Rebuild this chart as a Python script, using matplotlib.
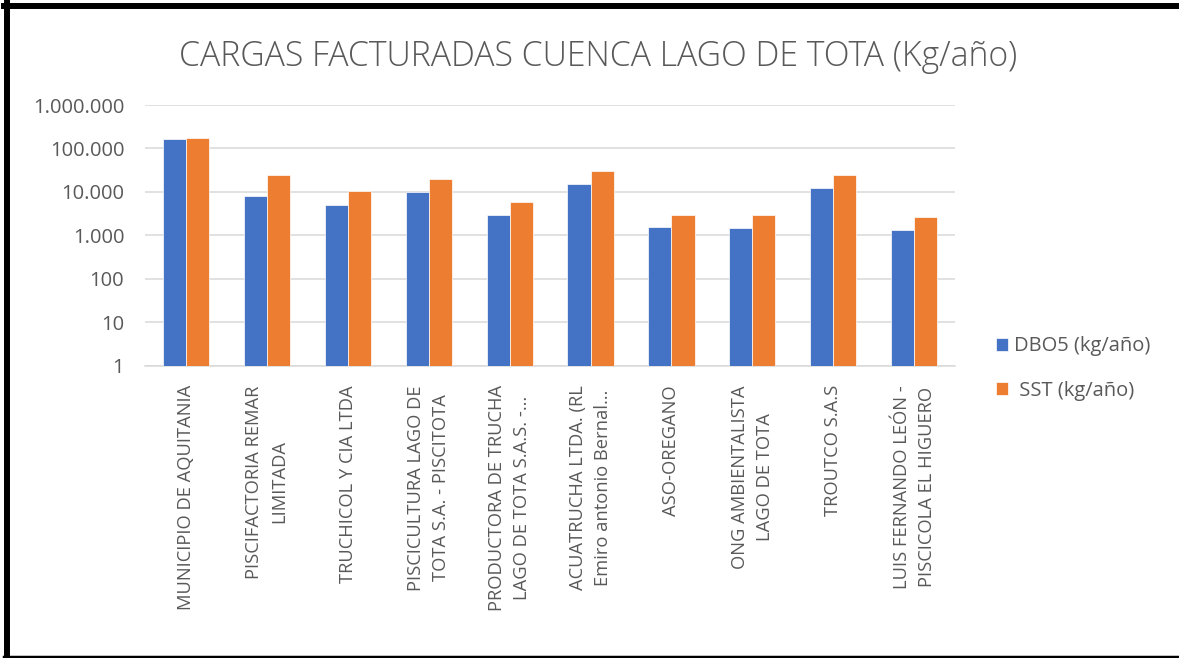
import numpy as np
import matplotlib
matplotlib.use('Agg')
import matplotlib.pyplot as plt
from matplotlib.lines import Line2D
from matplotlib.ticker import FixedLocator, FuncFormatter

plt.rcParams['font.family'] = ['Open Sans', 'DejaVu Sans']

empresas = ['MUNICIPIO DE AQUITANIA',
            'PISCIFACTORIA REMAR\nLIMITADA',
            'TRUCHICOL Y CIA LTDA',
            'PISCICULTURA LAGO DE\nTOTA S.A. - PISCITOTA',
            'PRODUCTORA DE TRUCHA\nLAGO DE TOTA S.A.S. -…',
            'ACUATRUCHA LTDA. (RL\nEmiro antonio Bernal…',
            'ASO-OREGANO',
            'ONG AMBIENTALISTA\nLAGO DE TOTA',
            'TROUTCO S.A.S',
            'LUIS FERNANDO LEÓN -\nPISCICOLA EL HIGUERO']
dbo5 = [163700, 8260, 5130, 10200, 2960, 15000, 1560, 1500, 12000, 1350]
sst = [172600, 25100, 10400, 20300, 6010, 29900, 3020, 2910, 24200, 2620]

azul = '#4472C4'
naranja = '#ED7D31'
gris = '#595959'

fig = plt.figure(figsize=(11.79, 6.58), dpi=100)
ax = fig.add_axes([0.123, 0.4442, 0.687, 0.3962])

x = np.arange(len(empresas))
w = 0.284
ax.bar(x - w/2, dbo5, w, color=azul, edgecolor='white', linewidth=0.5,
       label='DBO5 (kg/año)', zorder=3)
ax.bar(x + w/2, sst, w, color=naranja, edgecolor='white', linewidth=0.5,
       label=' SST (kg/año)', zorder=3)

ax.set_yscale('log')
ax.set_ylim(1, 1e6)
ax.set_xlim(-0.5, len(empresas) - 0.5)
ax.yaxis.set_major_locator(FixedLocator([10**k for k in range(7)]))
ax.yaxis.set_minor_locator(FixedLocator([]))
ax.yaxis.set_major_formatter(FuncFormatter(lambda v, p: f'{int(round(v)):,}'.replace(',', '.')))
ax.grid(axis='y', color='#d9d9d9', linewidth=1.1, zorder=0)
ax.tick_params(axis='y', length=0, pad=15, labelsize=14.5, labelcolor=gris)
ax.tick_params(axis='x', length=0, pad=14)

ax.set_xticks(x)
ax.set_xticklabels(empresas, rotation=90, ha='center', va='top', fontsize=13.2,
                   color=gris, linespacing=1.5, multialignment='center')

for s in ['top', 'right', 'left']:
    ax.spines[s].set_visible(False)
ax.spines['bottom'].set_color('#d9d9d9')
ax.spines['bottom'].set_linewidth(1.1)

fig.text(0.507, 0.914, 'CARGAS FACTURADAS CUENCA LAGO DE TOTA (Kg/año)',
         ha='center', va='center', fontsize=24.3, color=gris, fontweight='light')

fig.legend(loc='center left', bbox_to_anchor=(0.829, 0.44), frameon=False,
           fontsize=14.5, labelcolor=gris, handlelength=0.6, handleheight=0.6,
           handletextpad=0.3, labelspacing=1.2)

# marco negro de la imagen
fig.add_artist(Line2D([4/1179, 1], [1 - 6/658, 1 - 6/658], color='black', linewidth=4.3))
fig.add_artist(Line2D([7/1179, 7/1179], [0, 1 - 3/658], color='black', linewidth=4.3))
fig.add_artist(Line2D([4/1179, 1], [1.5/658, 1.5/658], color='black', linewidth=2.5))

fig.savefig('out.png', dpi=100)
